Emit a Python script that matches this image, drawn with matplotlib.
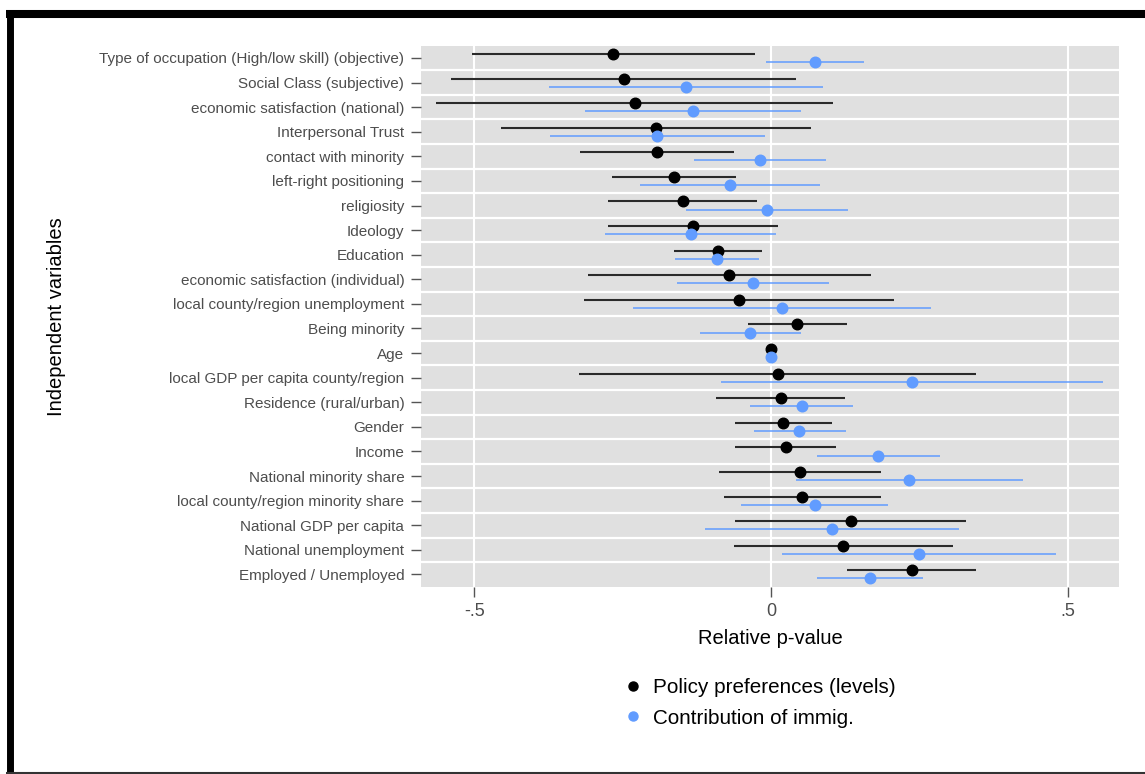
import numpy as np
import matplotlib
matplotlib.use("Agg")
import matplotlib.pyplot as plt
from matplotlib.lines import Line2D

plt.rcParams['font.family'] = ['Liberation Sans', 'DejaVu Sans']

# variables, top to bottom
variables = [
    "Type of occupation (High/low skill) (objective)",
    "Social Class (subjective)",
    "economic satisfaction (national)",
    "Interpersonal Trust",
    "contact with minority",
    "left-right positioning",
    "religiosity",
    "Ideology",
    "Education",
    "economic satisfaction (individual)",
    "local county/region unemployment",
    "Being minority",
    "Age",
    "local GDP per capita county/region",
    "Residence (rural/urban)",
    "Gender",
    "Income",
    "National minority share",
    "local county/region minority share",
    "National GDP per capita",
    "National unemployment",
    "Employed / Unemployed",
]

# Policy preferences (levels): estimate, lower, upper
policy_est = [-0.266, -0.248, -0.230, -0.194, -0.193, -0.163, -0.148, -0.131, -0.089, -0.070, -0.054,
              0.044, 0.000, 0.011, 0.016, 0.021, 0.025, 0.049, 0.053, 0.135, 0.121, 0.238]
policy_lo = [-0.504, -0.539, -0.564, -0.455, -0.322, -0.268, -0.274, -0.274, -0.163, -0.309, -0.315,
             -0.039, 0.000, -0.323, -0.092, -0.061, -0.060, -0.088, -0.079, -0.060, -0.063, 0.128]
policy_hi = [-0.027, 0.042, 0.105, 0.068, -0.063, -0.059, -0.024, 0.011, -0.015, 0.169, 0.207,
             0.128, 0.000, 0.346, 0.125, 0.103, 0.110, 0.185, 0.185, 0.329, 0.306, 0.346]

# Contribution of immig.: estimate, lower, upper
contrib_est = [0.074, -0.144, -0.131, -0.192, -0.019, -0.069, -0.006, -0.135, -0.091, -0.031, 0.019,
               -0.035, 0.000, 0.238, 0.052, 0.048, 0.181, 0.232, 0.074, 0.103, 0.249, 0.167]
contrib_lo = [-0.008, -0.374, -0.314, -0.373, -0.130, -0.220, -0.144, -0.279, -0.162, -0.159, -0.233,
              -0.120, 0.000, -0.084, -0.036, -0.029, 0.077, 0.042, -0.050, -0.112, 0.019, 0.078]
contrib_hi = [0.156, 0.087, 0.051, -0.010, 0.093, 0.082, 0.130, 0.008, -0.020, 0.098, 0.270,
              0.050, 0.000, 0.560, 0.139, 0.126, 0.285, 0.424, 0.198, 0.317, 0.480, 0.256]

x_ticks = [-0.5, 0, 0.5]
x_ticklabels = ["-.5", "0", ".5"]

black = "#000000"
blue = "#619CFF"
grey_txt = "#4D4D4D"

W, H = 1145, 774
fig = plt.figure(figsize=(W / 100, H / 100), dpi=100)
ax = fig.add_axes([421 / W, 1 - 586.7 / H, (1119 - 421) / W, (586.7 - 45.7) / H])
ax.set_facecolor("#E0E0E0")
for s in ax.spines.values():
    s.set_visible(False)

n = len(variables)
y = np.arange(n)
off = 0.165

# white row separators and vertical grid
for b in np.arange(0.5, n - 0.5, 1):
    ax.axhline(b, color="white", lw=1.6, zorder=1)
for xt in x_ticks:
    ax.axvline(xt, color="white", lw=1.5, zorder=1)

ax.hlines(y - off, policy_lo, policy_hi, color="#2a2a2a", lw=1.5, zorder=2)
ax.hlines(y + off, contrib_lo, contrib_hi, color=blue, lw=1.1, zorder=2)
ax.plot(policy_est, y - off, "o", color=black, ms=7.6, zorder=3)
ax.plot(contrib_est, y + off, "o", color=blue, ms=7.6, zorder=3)

ax.set_xlim(-0.59, 0.5866)
ax.set_ylim(n - 0.5, -0.5)

ax.set_yticks(y)
ax.set_yticklabels(variables, fontsize=11.0, color=grey_txt)
ax.set_xticks(x_ticks)
ax.set_xticklabels(x_ticklabels, fontsize=13, color=grey_txt)
ax.tick_params(axis="y", length=7, width=1, color="#555555", pad=5)
ax.tick_params(axis="x", length=7, width=1, color="#555555", pad=5)

ax.set_xlabel("Relative p-value", fontsize=14.5, labelpad=6)
ax.set_ylabel("Independent variables", fontsize=14.5)
ax.yaxis.set_label_coords((66 - 421) / (1119 - 421), 0.5)

handles = [
    Line2D([], [], marker="o", ls="none", color=black, ms=6.5),
    Line2D([], [], marker="o", ls="none", color=blue, ms=6.5),
]
fig.legend(handles, ["Policy preferences (levels)", "Contribution of immig."],
           loc="center", bbox_to_anchor=(759 / W, 1 - 703 / H), frameon=False,
           fontsize=14.9, handletextpad=0.45, labelspacing=0.55, handlelength=1.0)

# black frame around the figure
fig.add_artist(Line2D([6 / W, 1], [1 - 14 / H] * 2, color="black", lw=5.8,
                      transform=fig.transFigure, solid_capstyle="butt"))
fig.add_artist(Line2D([9.5 / W] * 2, [0, 1 - 10 / H], color="black", lw=5.0,
                      transform=fig.transFigure, solid_capstyle="butt"))
fig.add_artist(Line2D([6 / W, 1], [1 - 772.5 / H] * 2, color="#333333", lw=1.5,
                      transform=fig.transFigure, solid_capstyle="butt"))

fig.savefig("out.png", dpi=100)
